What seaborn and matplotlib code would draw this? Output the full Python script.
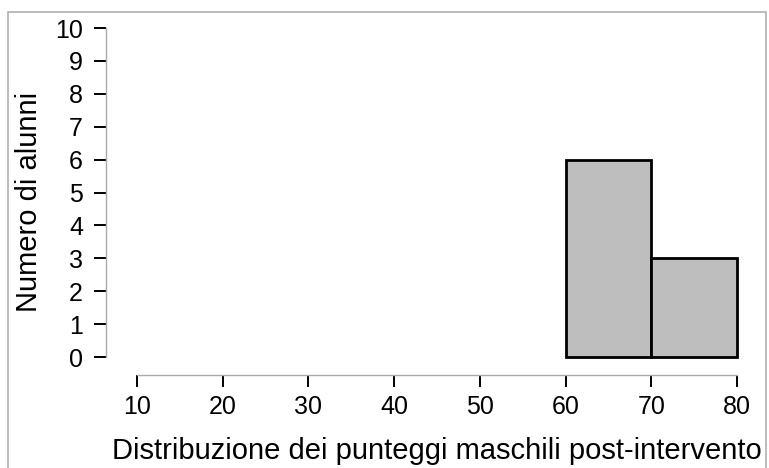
import matplotlib
matplotlib.use('Agg')
import matplotlib.pyplot as plt
import seaborn as sns
from matplotlib.patches import Rectangle

bin_edges = [60, 70, 80]
bin_centres = [65, 75]
counts = [6, 3]
xticks = [10, 20, 30, 40, 50, 60, 70, 80]
yticks = list(range(0, 11))
xlabel = 'Distribuzione dei punteggi maschili post-intervento'
ylabel = 'Numero di alunni'

sns.set_style('white')
plt.rcParams['font.family'] = ['Liberation Sans', 'DejaVu Sans']
plt.rcParams['text.color'] = 'black'
plt.rcParams['axes.labelcolor'] = 'black'
plt.rcParams['xtick.color'] = 'black'
plt.rcParams['ytick.color'] = 'black'

fig = plt.figure(figsize=(7.69, 4.68), dpi=100)
ax = fig.add_axes([106 / 769, 1 - 375 / 468, (768 - 106) / 769, (375 - 28) / 468])

sns.histplot(x=bin_centres, weights=counts, bins=bin_edges, color='#bebebe',
             edgecolor='black', linewidth=2, alpha=1, ax=ax)

ax.set_xlim(6.38, 83.62)
ax.set_ylim(-0.547, 10)
ax.set_xticks(xticks)
ax.set_yticks(yticks)
ax.tick_params(axis='both', direction='out', length=8.5, width=1.4, color='black',
               labelcolor='black', labelsize=18, pad=6, left=True, bottom=True)
ax.tick_params(axis='y', pad=8)
for s in ['top', 'right']:
    ax.spines[s].set_visible(False)
ax.spines['left'].set_bounds(0, 10)
ax.spines['bottom'].set_bounds(10, 80)
for s in ['left', 'bottom']:
    ax.spines[s].set_color('#aaaaaa')
    ax.spines[s].set_linewidth(1)
ax.set_xlabel(xlabel, fontsize=21, labelpad=13, color='black')
ax.set_ylabel(ylabel, fontsize=21, labelpad=9, color='black')

fig.patches.append(Rectangle((8 / 769, -0.1), (766 - 8) / 769, 1.1 - 12 / 468,
                             transform=fig.transFigure, fill=False,
                             edgecolor='#b0b0b0', linewidth=1.2, clip_on=False))

fig.savefig('out.png', dpi=100)
